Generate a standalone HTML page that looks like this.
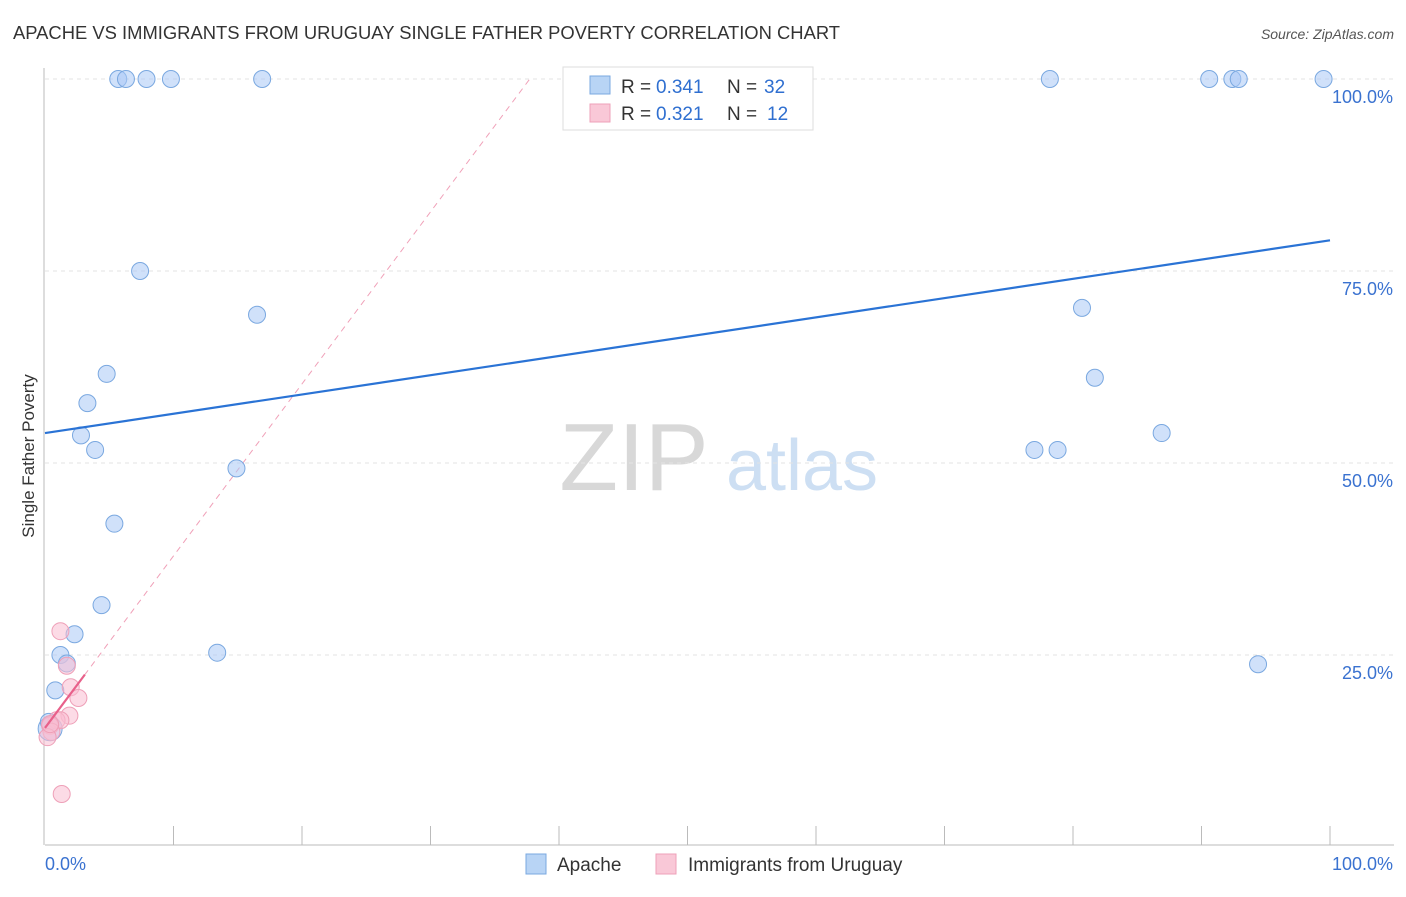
<!DOCTYPE html>
<html><head><meta charset="utf-8"><style>
body{margin:0;background:#fff;font-family:"Liberation Sans",sans-serif}
svg text{font-family:"Liberation Sans",sans-serif}
</style></head><body>
<svg id="c" width="1406" height="892" xmlns="http://www.w3.org/2000/svg">
<text x="13" y="39" font-size="18.4" fill="#333">APACHE VS IMMIGRANTS FROM URUGUAY SINGLE FATHER POVERTY CORRELATION CHART</text>
<text x="1394" y="39" font-size="14" fill="#555" text-anchor="end" font-style="italic">Source: ZipAtlas.com</text>
<text x="634" y="490" font-size="96" fill="#d8d8d8" font-family="Liberation Serif" text-anchor="middle">ZIP</text>
<text x="802" y="490" font-size="72" fill="#cddff3" text-anchor="middle">atlas</text>
<text transform="translate(34,456) rotate(-90)" font-size="17" fill="#333" text-anchor="middle">Single Father Poverty</text>
<g id="grid"></g><g id="marks"></g>
<g>
<rect x="563" y="67" width="250" height="63" fill="#fff" stroke="#ddd"/>
<rect x="590" y="76" width="20" height="18" fill="#b8d4f5" stroke="#7aa8e0"/>
<text x="621" y="93" font-size="19" fill="#333">R =</text>
<text x="656" y="93" font-size="19" fill="#2f6fd0">0.341</text>
<text x="727" y="93" font-size="19" fill="#333">N =</text>
<text x="764" y="93" font-size="19" fill="#2f6fd0">32</text>
<rect x="590" y="104" width="20" height="18" fill="#f9c8d7" stroke="#eea0b8"/>
<text x="621" y="120" font-size="19" fill="#333">R =</text>
<text x="656" y="120" font-size="19" fill="#2f6fd0">0.321</text>
<text x="727" y="120" font-size="19" fill="#333">N =</text>
<text x="767" y="120" font-size="19" fill="#2f6fd0">12</text>
</g>
<g>
<rect x="526" y="854" width="20" height="20" fill="#b8d4f5" stroke="#7aa8e0"/>
<text x="557" y="871" font-size="19" fill="#333">Apache</text>
<rect x="656" y="854" width="20" height="20" fill="#f9c8d7" stroke="#eea0b8"/>
<text x="688" y="871" font-size="19" fill="#333">Immigrants from Uruguay</text>
</g>
</svg>
<script>
const yTicks=[25,50,75,100];
const yTickLabels=["25.0%","50.0%","75.0%","100.0%"];
const apacheX=[5.7,6.3,7.9,9.8,16.9,78.2,90.6,92.4,92.9,99.5,7.4,16.5,80.7,4.8,3.3,81.7,2.8,3.9,77.0,78.8,86.9,14.9,5.4,4.4,2.3,1.2,1.7,13.4,94.4,0.8,0.4,0.3];
const apacheY=[100,100,100,100,100,100,100,100,100,100,75,69.3,70.2,61.6,57.8,61.1,53.6,51.7,51.7,51.7,53.9,49.3,42.1,31.5,27.7,25,23.9,25.3,23.8,20.4,15.4,16.3];
const uruX=[1.2,1.7,2.0,2.6,1.9,0.9,1.2,0.4,0.5,0.2,1.3,0.4];
const uruY=[28.1,23.6,20.8,19.4,17.1,16.5,16.5,15.8,15,14.3,6.9,16];
const apacheLine=[53.9,79.0];
const uruLine=[15.5,2.24];
const X=v=>45+v*12.85, Y=v=>847-v*7.68;
const NS="http://www.w3.org/2000/svg";
const g=document.getElementById('grid'), m=document.getElementById('marks');
function mk(p,tag,a){const e=document.createElementNS(NS,tag);for(const k in a)e.setAttribute(k,a[k]);p.appendChild(e);return e;}
yTicks.forEach((t,i)=>{
const l=mk(g,'line',{x1:45,x2:1394,y1:Y(t),y2:Y(t),stroke:'#e3e3e3','stroke-dasharray':'4,4'});


const tx=mk(g,'text',{x:1393,y:Y(t)+24,'font-size':18,fill:'#3a72d0','text-anchor':'end'});tx.textContent=yTickLabels[i];


});
const ax=mk(g,'line',{x1:45,x2:1394,y1:845,y2:845,stroke:'#bbb'});


const ay=mk(g,'line',{x1:44,x2:44,y1:68,y2:845,stroke:'#bbb'});


for(let i=1;i<=10;i++){const t=mk(g,'line',{x1:X(i*10),x2:X(i*10),y1:826,y2:845,stroke:'#bbb'});

}
[["0.0%",45,'start'],["100.0%",1393,'end']].forEach(d=>{const t=mk(g,'text',{x:d[1],y:870,'font-size':18,fill:'#3a72d0','text-anchor':d[2]});t.textContent=d[0];

});
const dl=mk(m,'line',{x1:X(0),y1:Y(uruLine[0]),x2:X((100-uruLine[0])/uruLine[1]),y2:Y(100),stroke:'#f0a0b8','stroke-dasharray':'6,5'});


apacheX.forEach((x,i)=>{const c=mk(m,'circle',{cx:X(x),cy:Y(apacheY[i]),r:i==30?12:8.5,fill:'rgba(170,200,245,0.55)',stroke:'#7aa8e0'});

});
uruX.forEach((x,i)=>{const c=mk(m,'circle',{cx:X(x),cy:Y(uruY[i]),r:8.5,fill:'rgba(249,190,210,0.55)',stroke:'#eea0b8'});

});
const bl=mk(m,'line',{x1:X(0),y1:Y(apacheLine[0]),x2:X(100),y2:Y(apacheLine[1]),stroke:'#2a73d5','stroke-width':2.2});


const pl=mk(m,'line',{x1:X(0),y1:Y(uruLine[0]),x2:X(3.1),y2:Y(uruLine[0]+3.1*uruLine[1]),stroke:'#e8608a','stroke-width':2.2});


</script>
</body></html>
